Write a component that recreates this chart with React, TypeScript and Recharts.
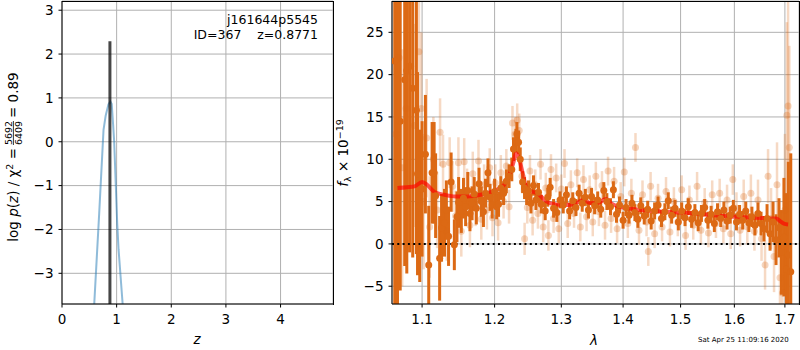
import React from 'react';
import {
  ComposedChart,
  Line,
  Scatter,
  ErrorBar,
  XAxis,
  YAxis,
  CartesianGrid,
  ReferenceLine,
} from 'recharts';

const FONT = 'DejaVu Sans';
const ORANGE = '#dc6914';
const GRID = '#b0b0b0';

// left panel: redshift probability
const pzZ = [0.53, 0.59, 0.68, 0.76, 0.8, 0.85, 0.885, 0.91, 0.935, 0.955, 0.985, 1.01, 1.035, 1.11, 1.14];
const pzLogP = [-4.3, -3.7, -1.65, 0.27, 0.6, 0.85, 0.92, 0.86, 0.4, 0.0, -1.0, -1.85, -2.45, -3.7, -4.2];
const zBest = [0.8771, 0.8771];
const zBestLevel = [-3.8, 2.29];
const zTicks = [0, 1, 2, 3, 4];
const pzTicks = [-3, -2, -1, 0, 1, 2, 3];
const zDomain = [0, 4.96];
const pzDomain = [-3.7, 3.21];

// right panel: spectrum (wavelength in micron, flux x 1e-19)
const darkWave = [
  1.0645, 1.068, 1.0715, 1.0773, 1.08, 1.0836, 1.0877, 1.0925, 1.094, 1.0969, 1.1, 1.1044, 1.1088, 1.1133,
  1.116, 1.118, 1.1234, 1.126, 1.13, 1.1325, 1.1355, 1.139, 1.1434, 1.147, 1.1493, 1.153, 1.156, 1.159,
  1.162, 1.165, 1.168, 1.171, 1.174, 1.1778, 1.181, 1.184, 1.187, 1.1905, 1.1935, 1.1965, 1.2, 1.203,
  1.2057, 1.209, 1.213, 1.217, 1.221, 1.225, 1.2275, 1.2311, 1.2325, 1.235, 1.2375, 1.241, 1.2439, 1.247,
  1.2498, 1.2535, 1.2573, 1.261, 1.2649, 1.269, 1.2751, 1.279, 1.2827, 1.288, 1.2931, 1.298, 1.303, 1.308,
  1.313, 1.318, 1.323, 1.328, 1.333, 1.338, 1.343, 1.348, 1.353, 1.358, 1.363, 1.368, 1.373, 1.379, 1.3838,
  1.389, 1.394, 1.4, 1.405, 1.41, 1.415, 1.42, 1.425, 1.43, 1.436, 1.442, 1.448, 1.454, 1.46, 1.466, 1.472,
  1.478, 1.484, 1.49, 1.496, 1.502, 1.508, 1.514, 1.52, 1.526, 1.532, 1.538, 1.544, 1.55, 1.556, 1.562,
  1.568, 1.574, 1.58, 1.586, 1.592, 1.598, 1.604, 1.61, 1.616, 1.622, 1.628, 1.634, 1.64, 1.646, 1.652,
  1.658, 1.664, 1.67, 1.676, 1.682, 1.688, 1.693, 1.698, 1.703, 1.707, 1.712,
];
const darkFlux = [
  21.6, 12.0, 14.5, 19.4, 20.5, 21.0, 18.4, 15.8, 8.3, 4.5, 6.5, 10.6, -2.5, 8.4,
  8.4, 5.7, -1.7, 1.9, 2.5, 4.0, 0.9, 7.3, -0.1, 3.2, 4.9, 3.9, 5.4, 4.4,
  6.3, 3.6, 4.8, 5.9, 4.2, 7.1, 5.0, 3.8, 6.0, 8.4, 5.5, 4.6, 6.2, 4.4,
  4.7, 6.6, 6.0, 7.4, 8.0, 8.8, 11.2, 12.2, 13.0, 12.0, 10.0, 7.3, 6.6, 5.9,
  6.3, 4.8, 6.9, 5.2, 6.1, 4.7, 3.9, 5.5, 6.7, 4.2, 3.7, 5.2, 4.6, 5.8,
  3.9, 5.1, 4.3, 6.0, 4.8, 5.5, 4.0, 5.6, 4.5, 5.2, 4.1, 6.3, 5.0, 4.4, 6.4,
  3.5, 4.6, 2.8, 4.3, 3.4, 4.8, 3.7, 2.9, 4.5, 3.3, 4.1, 2.7, 3.9, 4.6, 3.0, 3.8,
  5.1, 3.4, 4.2, 2.6, 3.9, 3.1, 4.4, 2.9, 3.7, 2.5, 3.6, 4.3, 2.8, 3.5, 2.4,
  3.8, 3.0, 4.0, 2.7, 3.4, 4.2, 2.6, 3.5, 2.8, 3.9, 2.5, 3.2, 2.2, 3.6, 2.4,
  1.8, 3.0, 1.2, 2.6, 0.5, 1.9, -1.0, 0.8, -3.0, -1.3, -3.3,
];
const darkErr = [
  30, 22, 20, 22, 24, 22, 20, 17, 12, 9, 8, 7, 7, 6,
  6, 5, 5, 4, 4, 3.5, 3.5, 3.5, 3, 3, 3, 2.6, 2.4, 2.3,
  2.2, 2.1, 2.0, 2.0, 1.9, 1.9, 1.8, 1.8, 1.7, 1.7, 1.6, 1.6, 1.5, 1.5,
  1.5, 1.4, 1.4, 1.4, 1.4, 1.4, 1.4, 1.4, 1.4, 1.4, 1.4, 1.3, 1.3, 1.3,
  1.2, 1.2, 1.2, 1.2, 1.1, 1.1, 1.1, 1.1, 1.1, 1.1, 1.1, 1.0, 1.0, 1.0,
  1.0, 1.0, 1.0, 1.0, 1.0, 1.0, 1.0, 1.0, 1.0, 1.0, 1.0, 1.0, 1.0, 1.0, 1.0,
  1.0, 1.0, 1.0, 1.0, 1.0, 1.0, 1.0, 1.0, 1.0, 1.0, 1.0, 1.0, 1.0, 1.0, 1.0, 1.0,
  1.0, 1.0, 1.0, 1.0, 1.0, 1.0, 1.0, 1.0, 1.0, 1.0, 1.0, 1.0, 1.0, 1.0, 1.0,
  1.0, 1.0, 1.0, 1.0, 1.0, 1.0, 1.0, 1.1, 1.1, 1.1, 1.1, 1.2, 1.2, 1.3, 1.4,
  1.5, 1.7, 2.0, 2.4, 3.0, 3.5, 5, 7, 9, 11, 14,
];

const lightWave = [
  1.066, 1.07, 1.074, 1.079, 1.085, 1.09, 1.0958, 1.099, 1.102, 1.106, 1.11, 1.115, 1.12, 1.124,
  1.128, 1.133, 1.137, 1.141, 1.145, 1.149, 1.153, 1.157, 1.161, 1.165, 1.169, 1.173, 1.177, 1.181,
  1.185, 1.189, 1.193, 1.197, 1.201, 1.205, 1.209, 1.213, 1.217, 1.221, 1.226, 1.23, 1.233, 1.236,
  1.24, 1.244, 1.248, 1.252, 1.256, 1.26, 1.264, 1.268, 1.272, 1.276, 1.28, 1.284, 1.288, 1.292,
  1.296, 1.3, 1.305, 1.31, 1.315, 1.32, 1.325, 1.33, 1.335, 1.34, 1.345, 1.35, 1.355, 1.36, 1.365,
  1.37, 1.375, 1.38, 1.385, 1.39, 1.396, 1.402, 1.408, 1.414, 1.421, 1.427, 1.433, 1.44, 1.443, 1.447,
  1.454, 1.46, 1.467, 1.474, 1.481, 1.488, 1.495, 1.502, 1.509, 1.516, 1.523, 1.53, 1.537, 1.544,
  1.551, 1.558, 1.565, 1.572, 1.579, 1.586, 1.593, 1.597, 1.604, 1.611, 1.618, 1.625, 1.632, 1.639,
  1.646, 1.653, 1.66, 1.666, 1.672, 1.678, 1.684, 1.69, 1.695, 1.7, 1.704, 1.7065, 1.709,
];
const lightFlux = [
  13.0, 22.0, 9.0, 16.0, 21.0, 14.0, 22.7, 16.0, 5.0, 12.5, 2.0, 10.0, 4.0, 13.2,
  9.4, 1.5, 9.6, 6.8, 3.3, 9.6, 1.5, 9.7, 6.1, 2.2, 8.3, 4.6, 9.8, 2.9,
  7.0, 4.0, 9.0, 3.1, 7.2, 2.5, 8.4, 5.0, 9.2, 4.4, 14.3, 13.0, 14.6, 13.4,
  8.0, 0.6, 4.3, 8.6, 2.8, 7.0, 3.6, 9.4, 2.0, 6.6, 1.0, 8.8, 3.0, 7.8,
  1.8, 6.5, 9.5, 2.4, 7.0, 3.6, 8.4, 2.0, 7.6, 3.2, 6.4, 2.6, 8.0, 3.8, 6.9,
  2.2, 8.6, 3.0, 7.4, 1.8, 5.6, 8.5, 2.4, 6.0, 11.4, 1.6, 5.8, 2.6, -0.9, 6.8,
  1.2, 5.4, 2.0, 6.2, 1.4, 5.0, 2.6, 6.4, 1.0, 5.2, 2.2, 6.8, 1.6, 4.9,
  1.3, 5.8, 2.4, 6.0, 1.8, 5.2, 1.2, 7.6, 4.2, 1.6, 5.6, 2.0, 6.0, 1.5,
  5.2, 0.6, -2.5, 8.0, 3.0, -1.5, 7.0, -4.0, -5.8, 4.0, 15.2, 16.3, 11.4,
];
const lightErr = [
  15, 18, 14, 15, 14, 12, 10, 9, 8, 7, 6, 5, 4.5, 4,
  3.5, 3.5, 3, 3, 3, 3, 3, 2.8, 2.8, 2.6, 2.6, 2.5, 2.5, 2.4,
  2.4, 2.3, 2.3, 2.2, 2.2, 2.1, 2.1, 2.0, 2.0, 2.0, 2.0, 2.0, 2.0, 2.0,
  1.9, 1.9, 1.9, 1.9, 1.8, 1.8, 1.8, 1.8, 1.8, 1.8, 1.8, 1.8, 1.7, 1.7,
  1.7, 1.7, 1.7, 1.7, 1.7, 1.7, 1.7, 1.7, 1.7, 1.7, 1.7, 1.7, 1.7, 1.7, 1.7,
  1.7, 1.7, 1.7, 1.7, 1.7, 1.7, 1.7, 1.7, 1.7, 1.7, 1.7, 1.7, 1.7, 1.7, 1.7,
  1.7, 1.7, 1.7, 1.7, 1.7, 1.7, 1.7, 1.7, 1.7, 1.7, 1.7, 1.7, 1.7, 1.7,
  1.7, 1.7, 1.7, 1.7, 1.7, 1.8, 1.8, 1.8, 1.9, 1.9, 2.0, 2.1, 2.2, 2.3,
  2.4, 2.6, 2.9, 3.2, 3.6, 4.2, 5.0, 6.0, 7.5, 9, 11, 13, 12,
];

const modelWave = [
  1.068, 1.08, 1.09, 1.1, 1.105, 1.117, 1.13, 1.145, 1.161, 1.18, 1.19, 1.2, 1.213, 1.223, 1.228, 1.231,
  1.236, 1.241, 1.247, 1.255, 1.265, 1.2725, 1.28, 1.29, 1.3, 1.31, 1.32, 1.335, 1.347, 1.36, 1.3717,
  1.38, 1.393, 1.41, 1.43, 1.46, 1.5, 1.55, 1.6, 1.64, 1.6825, 1.69, 1.698, 1.7065,
];
const modelFlux = [
  6.6, 6.7, 6.8, 7.3, 7.1, 6.1, 5.8, 5.6, 5.6, 5.8, 6.0, 6.3, 6.9, 8.5, 9.8, 10.75,
  10.0, 8.4, 6.6, 6.2, 5.9, 5.3, 4.9, 4.7, 4.6, 4.6, 4.7, 5.15, 4.8, 4.9, 5.3,
  4.8, 4.4, 4.2, 4.0, 3.85, 3.7, 3.45, 3.2, 3.1, 3.0, 2.7, 2.4, 2.3,
];
const waveTicks = [1.1, 1.2, 1.3, 1.4, 1.5, 1.6, 1.7];
const fluxTicks = [-5, 0, 5, 10, 15, 20, 25];
const waveDomain = [1.061, 1.729];
const fluxDomain = [-7.1, 28.7];

// error bars are cut at the frame, like the clipped matplotlib bars
const clipErr = (y: number, e: number) => [
  Math.max(0, Math.min(e, y - fluxDomain[0])),
  Math.max(0, Math.min(e, fluxDomain[1] - y)),
];

const pzData = pzZ.map((z, i) => ({ x: z, y: pzLogP[i] }));
const zBestData = zBest.map((z, i) => ({ x: z, y: zBestLevel[i] }));
const darkData = darkWave.map((w, i) => ({ x: w, y: darkFlux[i], e: clipErr(darkFlux[i], darkErr[i]) }));
const lightData = lightWave.map((w, i) => ({ x: w, y: lightFlux[i], e: clipErr(lightFlux[i], lightErr[i]) }));
const modelData = modelWave.map((w, i) => ({ x: w, y: modelFlux[i] }));

const fmt = (v: number) => (v < 0 ? `\u2212${Math.abs(v)}` : String(v));
const tickStyle = { fill: '#000', fontSize: 13.5, fontFamily: FONT };

function PzYLabel() {
  return (
    <g transform="translate(18,153) rotate(-90)" fontFamily={FONT} fill="#000">
      <text x={5} y={0} fontSize={13.5} textAnchor="end">
        log <tspan fontStyle="italic">p</tspan>(<tspan fontStyle="italic">z</tspan>) / χ
        <tspan dy={-5.5} fontSize={9.5}>2</tspan>
        <tspan dy={5.5}> =</tspan>
      </text>
      <text x={20} y={-6.5} fontSize={9.5} textAnchor="middle">5692</text>
      <line x1={8} x2={32} y1={-4.6} y2={-4.6} stroke="#000" strokeWidth={0.8} />
      <text x={20} y={4} fontSize={9.5} textAnchor="middle">6409</text>
      <text x={35} y={0} fontSize={13.5}>= 0.89</text>
    </g>
  );
}

function PzXLabel() {
  return (
    <g fontFamily={FONT} fill="#000">
      <text x={197} y={344} fontSize={13.5} fontStyle="italic" textAnchor="middle">z</text>
      <text x={318} y={24} fontSize={12.5} textAnchor="end">j161644p5545</text>
      <text x={318} y={39} fontSize={12.5} textAnchor="end" style={{ whiteSpace: 'pre' }}>
        ID=367    z=0.8771
      </text>
    </g>
  );
}

function SpecYLabel() {
  return (
    <g transform="translate(18,153) rotate(-90)" fontFamily={FONT} fill="#000">
      <text x={0} y={0} fontSize={13.5} textAnchor="middle">
        <tspan fontStyle="italic">f</tspan>
        <tspan fontSize={9.5} dy={3}>λ</tspan>
        <tspan dy={-3}> × 10</tspan>
        <tspan fontSize={9.5} dy={-5.5}>−19</tspan>
      </text>
    </g>
  );
}

function SpecXLabel() {
  return (
    <g fontFamily={FONT} fill="#000">
      <text x={264} y={345} fontSize={13.5} fontStyle="italic" textAnchor="middle">λ</text>
      <text x={368} y={342} fontSize={7} textAnchor="start">Sat Apr 25 11:09:16 2020</text>
    </g>
  );
}

const darkDot = (p: any) => <circle cx={p.cx} cy={p.cy} r={3.5} fill={ORANGE} />;
const lightDot = (p: any) => <circle cx={p.cx} cy={p.cy} r={3.5} fill={ORANGE} fillOpacity={0.28} />;

// axes frame (the matplotlib spines): top and right edges, drawn as thin bars
const edge = (left: number, top: number, width: number, height: number): React.CSSProperties => ({
  position: 'absolute',
  left,
  top,
  width,
  height,
  background: '#000',
  zIndex: 10,
  pointerEvents: 'none',
});

export default function App() {
  return (
    <div style={{ position: 'fixed', left: 0, top: 0, width: 800, height: 350, background: '#fff' }}>
      <div style={{ position: 'absolute', left: 0, top: 0 }}>
        <ComposedChart width={340} height={350} margin={{ top: 1, right: 7, bottom: 0, left: 0 }}>
          <CartesianGrid stroke={GRID} strokeWidth={1} />
          <XAxis
            dataKey="x"
            type="number"
            domain={zDomain}
            ticks={zTicks}
            allowDataOverflow
            height={46}
            tick={tickStyle}
            tickSize={3.5}
            tickMargin={7}
            stroke="#000"
            label={<PzXLabel />}
          />
          <YAxis
            dataKey="y"
            type="number"
            domain={pzDomain}
            ticks={pzTicks}
            allowDataOverflow
            width={62}
            tick={tickStyle}
            tickSize={3.5}
            tickMargin={5}
            tickFormatter={fmt}
            stroke="#000"
            label={<PzYLabel />}
          />
          <Line
            data={pzData}
            dataKey="y"
            type="linear"
            stroke="#1f77b4"
            strokeOpacity={0.5}
            strokeWidth={2}
            dot={false}
            isAnimationActive={false}
          />
          <Line
            data={zBestData}
            dataKey="y"
            type="linear"
            stroke="#000"
            strokeOpacity={0.72}
            strokeWidth={3}
            dot={false}
            isAnimationActive={false}
          />
        </ComposedChart>
      </div>
      <div style={{ position: 'absolute', left: 330, top: 0 }}>
        <ComposedChart width={470} height={350} margin={{ top: 1, right: 1, bottom: 0, left: 0 }}>
          <CartesianGrid stroke={GRID} strokeWidth={1} />
          <XAxis
            dataKey="x"
            type="number"
            scale="log"
            domain={waveDomain}
            ticks={waveTicks}
            allowDataOverflow
            height={46}
            tick={tickStyle}
            tickSize={3.5}
            tickMargin={7}
            stroke="#000"
            label={<SpecXLabel />}
          />
          <YAxis
            dataKey="y"
            type="number"
            domain={fluxDomain}
            ticks={fluxTicks}
            allowDataOverflow
            width={62}
            tick={tickStyle}
            tickSize={3.5}
            tickMargin={5}
            tickFormatter={fmt}
            stroke="#000"
            label={<SpecYLabel />}
          />
          <Scatter data={lightData} dataKey="y" shape={lightDot} isAnimationActive={false}>
            <ErrorBar
              dataKey="e"
              direction="y"
              width={0}
              stroke={ORANGE}
              strokeOpacity={0.25}
              strokeWidth={2.5}
              isAnimationActive={false}
            />
          </Scatter>
          <Scatter data={darkData} dataKey="y" shape={darkDot} isAnimationActive={false}>
            <ErrorBar
              dataKey="e"
              direction="y"
              width={0}
              stroke={ORANGE}
              strokeWidth={3}
              isAnimationActive={false}
            />
          </Scatter>
          <Line
            data={modelData}
            dataKey="y"
            type="monotone"
            stroke="#ff0000"
            strokeOpacity={0.65}
            strokeWidth={4}
            dot={false}
            isAnimationActive={false}
          />
          <ReferenceLine y={0} stroke="#000" strokeWidth={2} strokeDasharray="2 3.3" />
        </ComposedChart>
      </div>
      <div style={edge(62, 1, 272, 1.2)} />
      <div style={edge(332.5, 1, 1.2, 303.5)} />
      <div style={edge(392, 1, 408, 1.2)} />
      <div style={edge(798.5, 1, 1.2, 303.5)} />
    </div>
  );
}
